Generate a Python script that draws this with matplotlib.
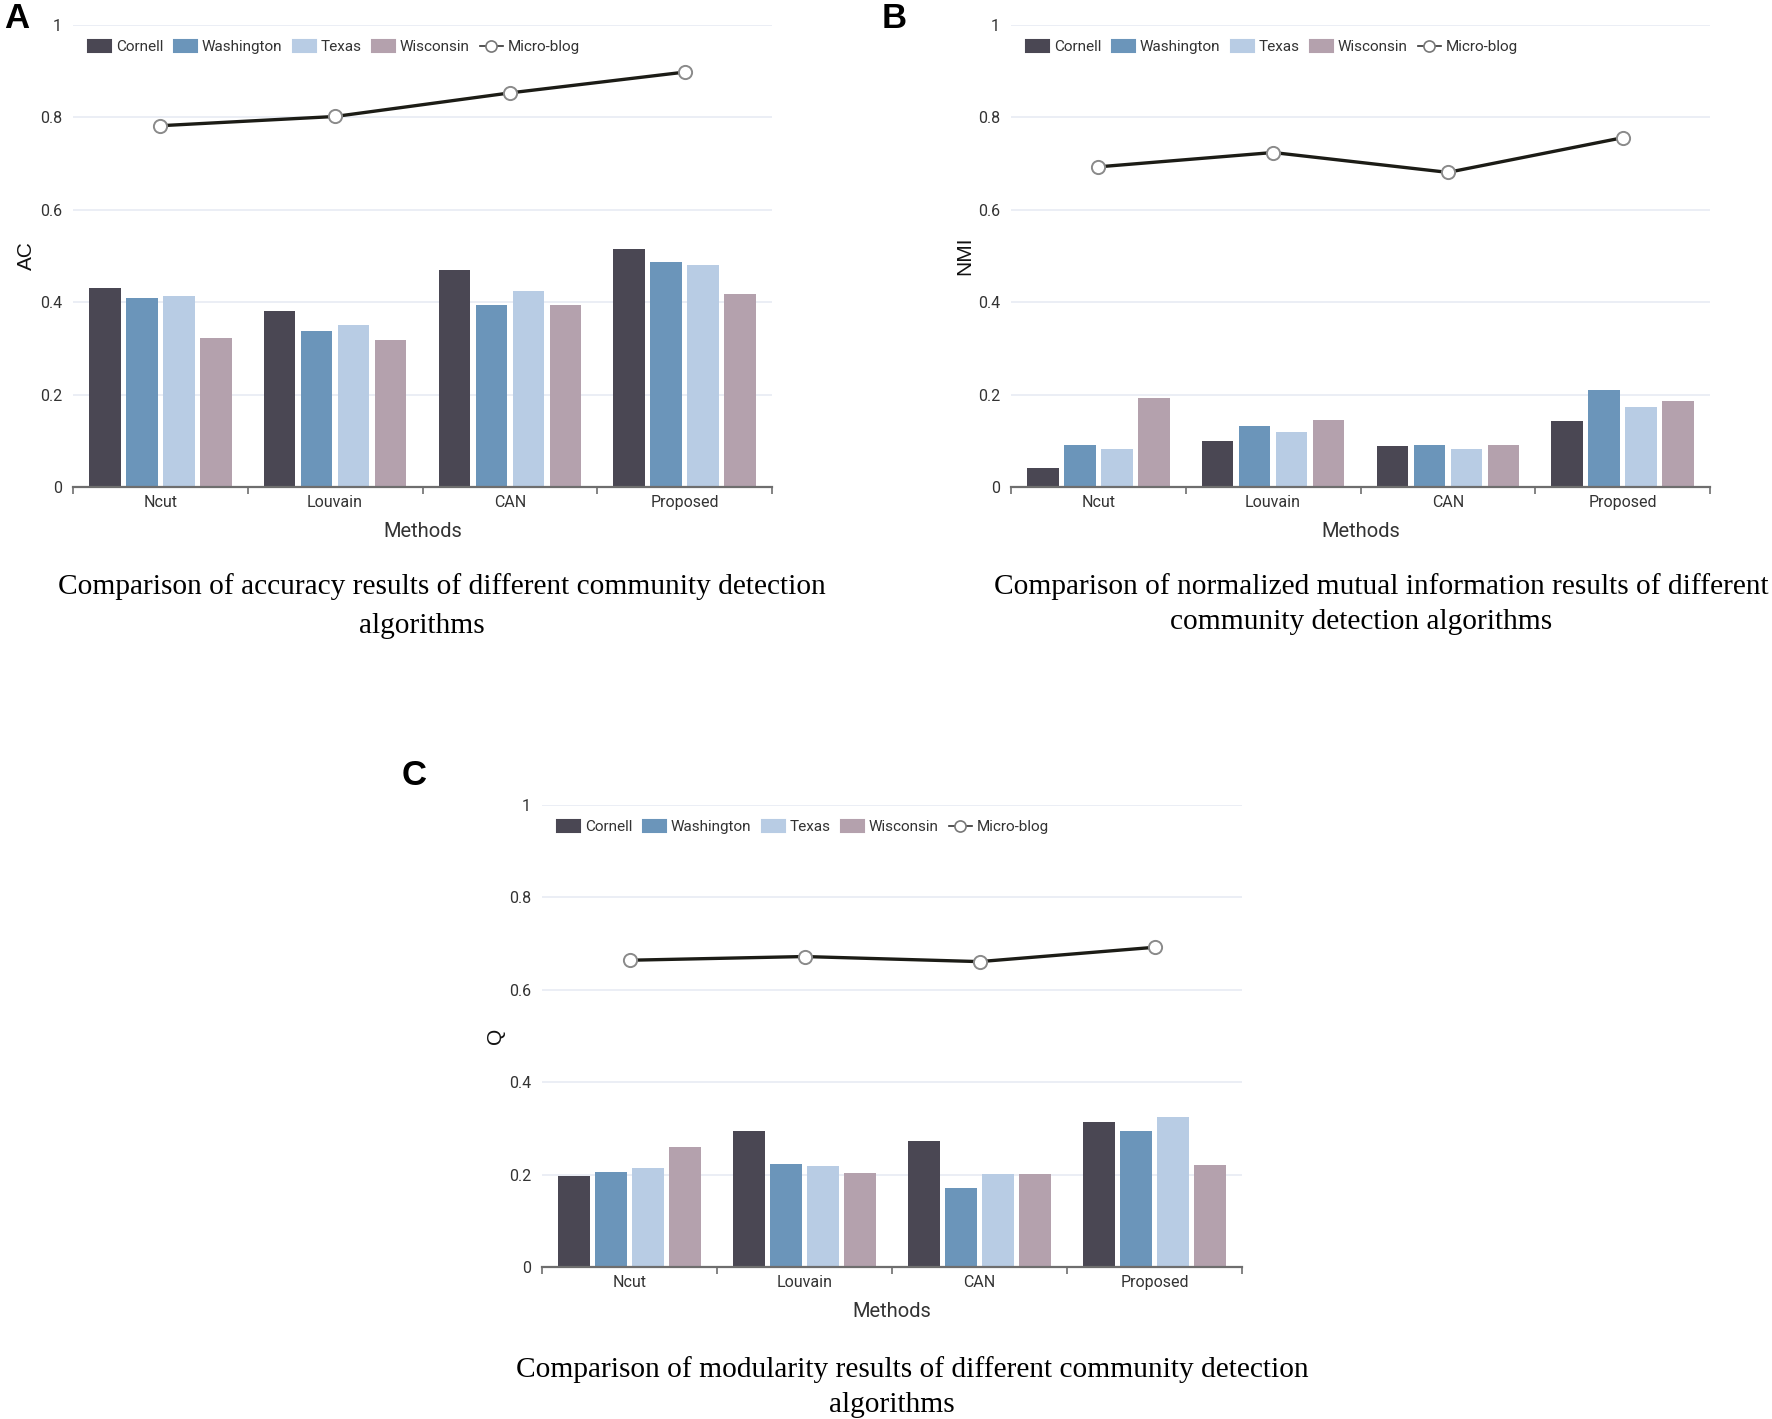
import matplotlib
matplotlib.use("Agg")
import matplotlib.pyplot as plt
import numpy as np
from matplotlib.patches import Patch
from matplotlib.lines import Line2D

methods = ["Ncut", "Louvain", "CAN", "Proposed"]
series = ["Cornell", "Washington", "Texas", "Wisconsin"]
line_name = "Micro-blog"

# Panel A: accuracy (AC)
ac_cornell = [0.431, 0.382, 0.470, 0.515]
ac_washington = [0.409, 0.338, 0.394, 0.487]
ac_texas = [0.413, 0.350, 0.424, 0.480]
ac_wisconsin = [0.323, 0.318, 0.393, 0.418]
ac_microblog = [0.782, 0.802, 0.853, 0.898]

# Panel B: normalized mutual information (NMI)
nmi_cornell = [0.042, 0.100, 0.088, 0.143]
nmi_washington = [0.091, 0.131, 0.091, 0.211]
nmi_texas = [0.082, 0.118, 0.082, 0.174]
nmi_wisconsin = [0.193, 0.144, 0.090, 0.187]
nmi_microblog = [0.693, 0.724, 0.681, 0.756]

# Panel C: modularity (Q)
q_cornell = [0.196, 0.294, 0.273, 0.314]
q_washington = [0.205, 0.224, 0.171, 0.294]
q_texas = [0.214, 0.219, 0.202, 0.325]
q_wisconsin = [0.259, 0.203, 0.201, 0.220]
q_microblog = [0.664, 0.672, 0.661, 0.692]

yticks = [0, 0.2, 0.4, 0.6, 0.8, 1]
ytick_labels = ["0", "0.2", "0.4", "0.6", "0.8", "1"]

colors = ["#4a4753", "#6b95ba", "#b8cce4", "#b4a1ad"]
UI_FONT = "Roboto"

W, H = 1772, 1419
fig = plt.figure(figsize=(W / 100, H / 100), dpi=100)


def px_axes(left, right, top, bottom):
    return fig.add_axes([left / W, 1 - bottom / H, (right - left) / W, (bottom - top) / H])


def draw_panel(ax, bars, line, ylabel):
    x = np.arange(len(methods))
    offsets = [-0.318, -0.106, 0.106, 0.318]
    width = 0.18
    for vals, off, c in zip(bars, offsets, colors):
        ax.bar(x + off, vals, width=width, color=c, zorder=2)
    ax.plot(x, line, color="#1c1c16", lw=2.4, marker="o", ms=9.5,
            mfc="white", mec="#8a8a8a", mew=1.4, zorder=3)
    ax.set_xlim(-0.5, len(methods) - 0.5)
    ax.set_ylim(0, 1)
    ax.set_yticks(yticks)
    ax.set_yticklabels(ytick_labels, fontfamily=UI_FONT, fontsize=11.5, color="#333333")
    ax.tick_params(axis="y", length=0, pad=8)
    ax.grid(axis="y", color="#e9edf4", lw=1.3, zorder=0)
    ax.set_axisbelow(True)
    for s in ["top", "right", "left"]:
        ax.spines[s].set_visible(False)
    ax.spines["bottom"].set_color("#6e6e6e")
    ax.spines["bottom"].set_linewidth(1.6)
    ax.spines["bottom"].set_zorder(4)
    ax.set_xticks(x)
    ax.set_xticklabels(methods, fontfamily=UI_FONT, fontsize=11.5, color="#333333")
    ax.tick_params(axis="x", which="major", length=0, pad=6)
    ax.set_xticks(np.arange(-0.5, len(methods)), minor=True)
    ax.tick_params(axis="x", which="minor", length=5, width=1.2, color="#6e6e6e", direction="out")
    ax.set_xlabel("Methods", fontfamily=UI_FONT, fontsize=14.5, color="#333333")
    ax.xaxis.set_label_coords(0.5, -0.075)
    ax.set_ylabel(ylabel, fontfamily="Liberation Sans", fontsize=15, color="#111111")
    ax.yaxis.set_label_coords(-0.053, 0.5)

    handles = [Patch(facecolor=c, edgecolor=c, joinstyle="round", linewidth=1.5) for c in colors]
    handles.append(Line2D([0], [0], color="#333333", lw=1.2, marker="o", ms=8,
                          mfc="white", mec="#777777", mew=1.2))
    leg = ax.legend(handles, series + [line_name], loc="upper left",
                    bbox_to_anchor=(0.022, 0.968), ncol=5, frameon=False,
                    prop={"family": UI_FONT, "size": 11}, handlelength=1.5,
                    handleheight=0.9, handletextpad=0.3, columnspacing=0.7,
                    borderpad=0, borderaxespad=0)
    for t in leg.get_texts():
        t.set_color("#333333")


axA = px_axes(73, 772, 25, 487)
draw_panel(axA, [ac_cornell, ac_washington, ac_texas, ac_wisconsin], ac_microblog, "AC")
axB = px_axes(1011, 1710, 25, 487)
draw_panel(axB, [nmi_cornell, nmi_washington, nmi_texas, nmi_wisconsin], nmi_microblog, "NMI")
axC = px_axes(542, 1242, 805, 1267)
draw_panel(axC, [q_cornell, q_washington, q_texas, q_wisconsin], q_microblog, "Q")


def ftext(xp, yp, s, **kw):
    fig.text(xp / W, 1 - yp / H, s, **kw)


letter_kw = dict(fontfamily="Liberation Sans", fontweight="bold", fontsize=25,
                 ha="center", va="center", color="black")
ftext(17, 19, "A", **letter_kw)
ftext(894, 19, "B", **letter_kw)
ftext(414, 775, "C", **letter_kw)

cap_kw = dict(fontfamily="Liberation Serif", fontsize=21.2, ha="center", va="center", color="black")
ftext(442, 587, "Comparison of accuracy results of different community detection", **cap_kw)
ftext(422, 626, "algorithms", **cap_kw)
ftext(1381, 587, "Comparison of normalized mutual information results of different", **cap_kw)
ftext(1361, 622, "community detection algorithms", **cap_kw)
ftext(912, 1370, "Comparison of modularity results of different community detection", **cap_kw)
ftext(892, 1405, "algorithms", **cap_kw)

fig.savefig("out.png", dpi=100, facecolor="white")
